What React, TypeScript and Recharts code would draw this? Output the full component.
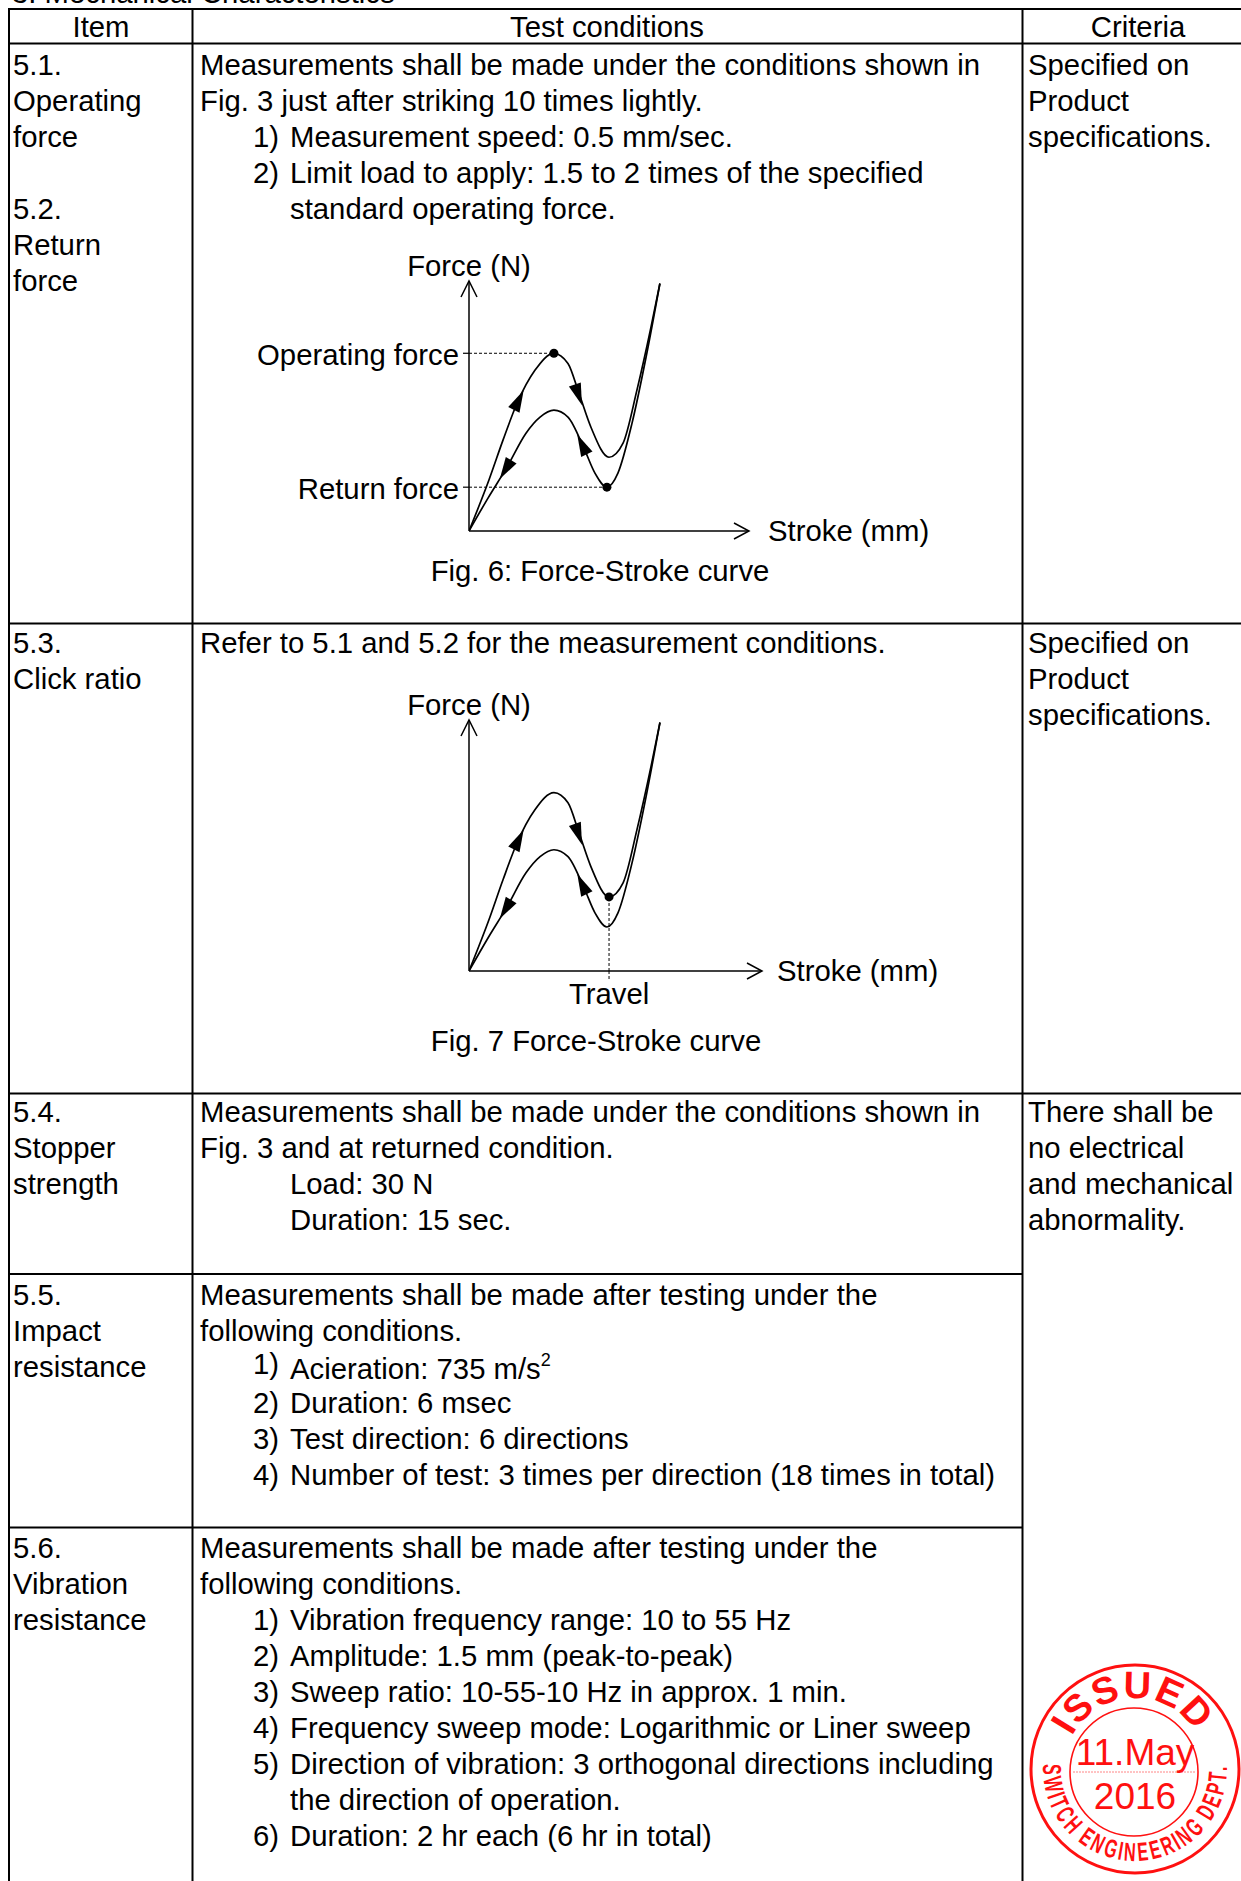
import React from 'react';
import { ComposedChart, Line, Scatter, XAxis, YAxis, ReferenceLine, ReferenceDot } from 'recharts';

const FONT = '"Liberation Sans", Arial, Helvetica, sans-serif';
const FS = 29.3;

// ---- Force-Stroke curve readings (relative stroke / force units) ----
const pressStroke = [0, 1.05, 1.79, 2.53, 3.47, 4.47, 5.21, 5.79, 6.42, 7.37, 8.11, 8.84, 9.58, 10.05];
const pressForce = [0, 2.06, 3.67, 5.16, 6.49, 7.18, 6.77, 5.56, 4.19, 2.98, 3.55, 5.69, 8.23, 10.0];
const releaseStroke = [0, 1.0, 2.0, 3.0, 3.74, 4.47, 5.21, 6.05, 6.63, 7.26, 7.84, 8.58, 9.32, 10.05];
const releaseForce = [0, 1.33, 2.58, 3.95, 4.6, 4.88, 4.6, 3.35, 2.34, 1.77, 2.34, 4.35, 7.02, 10.0];

// direction arrows on the curves: position and the point they head toward
const arrowStroke = [2.62, 5.76, 5.95, 1.92];
const arrowForce = [5.29, 5.5, 3.5, 2.48];
const arrowToStroke = [3.08, 6.07, 5.52, 1.42];
const arrowToForce = [6.0, 4.81, 4.18, 1.85];

// marked points
const operatingPoint = { s: 4.47, f: 7.18 };
const returnPoint = { s: 7.26, f: 1.77 };
const travelPoint = { s: 7.37, f: 2.98 };
const forceTickValues = [returnPoint.f, operatingPoint.f];
const forceTickNames = ['Return force', 'Operating force'];

const pressData = pressStroke.map((s, i) => ({ s, f: pressForce[i] }));
const releaseData = releaseStroke.map((s, i) => ({ s, f: releaseForce[i] }));
const arrowData = arrowStroke.map((s, i) => ({ s, f: arrowForce[i], ts: arrowToStroke[i], tf: arrowToForce[i] }));

// ---- table text ----
const itemLines: [string, number][] = [
  ['5.1.', 75], ['Operating', 111], ['force', 147], ['5.2.', 219], ['Return', 255], ['force', 291],
  ['5.3.', 653], ['Click ratio', 689],
  ['5.4.', 1122], ['Stopper', 1158], ['strength', 1194],
  ['5.5.', 1305], ['Impact', 1341], ['resistance', 1377],
  ['5.6.', 1558], ['Vibration', 1594], ['resistance', 1630],
];
const condLines: [string, number][] = [
  ['Measurements shall be made under the conditions shown in', 75],
  ['Fig. 3 just after striking 10 times lightly.', 111],
  ['Refer to 5.1 and 5.2 for the measurement conditions.', 653],
  ['Measurements shall be made under the conditions shown in', 1122],
  ['Fig. 3 and at returned condition.', 1158],
  ['Measurements shall be made after testing under the', 1305],
  ['following conditions.', 1341],
  ['Measurements shall be made after testing under the', 1558],
  ['following conditions.', 1594],
];
const listLines: [string, string, number][] = [
  ['1)', 'Measurement speed: 0.5 mm/sec.', 147],
  ['2)', 'Limit load to apply: 1.5 to 2 times of the specified', 183],
  ['', 'standard operating force.', 219],
  ['', 'Load: 30 N', 1194],
  ['', 'Duration: 15 sec.', 1230],
  ['2)', 'Duration: 6 msec', 1413],
  ['3)', 'Test direction: 6 directions', 1449],
  ['4)', 'Number of test: 3 times per direction (18 times in total)', 1485],
  ['1)', 'Vibration frequency range: 10 to 55 Hz', 1630],
  ['2)', 'Amplitude: 1.5 mm (peak-to-peak)', 1666],
  ['3)', 'Sweep ratio: 10-55-10 Hz in approx. 1 min.', 1702],
  ['4)', 'Frequency sweep mode: Logarithmic or Liner sweep', 1738],
  ['5)', 'Direction of vibration: 3 orthogonal directions including', 1774],
  ['', 'the direction of operation.', 1810],
  ['6)', 'Duration: 2 hr each (6 hr in total)', 1846],
];
const critLines: [string, number][] = [
  ['Specified on', 75], ['Product', 111], ['specifications.', 147],
  ['Specified on', 653], ['Product', 689], ['specifications.', 725],
  ['There shall be', 1122], ['no electrical', 1158], ['and mechanical', 1194], ['abnormality.', 1230],
];

// stamp texts
const stampTop = 'ISSUED';
const stampBottom = 'SWITCH ENGINEERING DEPT.';
const stampDate = '11.May';
const stampYear = '2016';
const boldWidths: Record<string, number> = {
  S: 667, W: 944, I: 278, T: 611, C: 722, H: 722, ' ': 278, E: 667, N: 722, G: 778, R: 722, D: 722, P: 667, '.': 278, U: 722,
};

const Y_AXIS_W = 229;

function makeArrowShape(kx: number, ky: number) {
  return (props: any) => {
    const { cx, cy, payload } = props;
    if (cx == null || cy == null) return <g />;
    const dx = (payload.ts - payload.s) * kx;
    const dy = -(payload.tf - payload.f) * ky;
    const len = Math.hypot(dx, dy) || 1;
    const ux = dx / len;
    const uy = dy / len;
    const L = 22;
    const W = 6.3;
    const tx = cx + (ux * L) / 2;
    const ty = cy + (uy * L) / 2;
    const bx = cx - (ux * L) / 2;
    const by = cy - (uy * L) / 2;
    const d = `M${tx},${ty} L${bx - uy * W},${by + ux * W} L${bx + uy * W},${by - ux * W} Z`;
    return <path d={d} fill="#000" stroke="none" />;
  };
}

const upChevron = (props: any) => {
  const { cx, cy } = props;
  return <path d={`M${cx - 8},${cy + 16} L${cx},${cy} L${cx + 8},${cy + 16}`} fill="none" stroke="#000" strokeWidth={1.5} />;
};
const rightChevron = (props: any) => {
  const { cx, cy } = props;
  return <path d={`M${cx - 15},${cy - 8} L${cx},${cy} L${cx - 15},${cy + 8}`} fill="none" stroke="#000" strokeWidth={1.5} />;
};

const ForceTick = (props: any) => {
  const { x, y, payload } = props;
  const idx = forceTickValues.indexOf(payload.value);
  const name = forceTickNames[idx] ?? '';
  return (
    <text x={x} y={y + 12} textAnchor="end" fontSize={FS} fill="#000" fontFamily={FONT}>
      {name}
    </text>
  );
};
const TravelTick = (props: any) => {
  const { x, y } = props;
  return (
    <text x={x} y={y + 25} textAnchor="middle" fontSize={FS} fill="#000" fontFamily={FONT}>
      Travel
    </text>
  );
};

type FigProps = {
  width: number;
  height: number;
  margin: { top: number; right: number; bottom: number; left: number };
  xAxisHeight: number;
  xMax: number;
  yMax: number;
  variant: 'op' | 'travel';
  strokeOffset: number;
};

function ForceStrokeChart({ width, height, margin, xAxisHeight, xMax, yMax, variant, strokeOffset }: FigProps) {
  const plotW = width - margin.left - margin.right - Y_AXIS_W;
  const plotH = height - margin.top - margin.bottom - xAxisHeight;
  const kx = plotW / xMax;
  const ky = plotH / yMax;
  const arrowShape = makeArrowShape(kx, ky);
  const isOp = variant === 'op';
  return (
    <ComposedChart width={width} height={height} margin={margin}>
      <XAxis
        type="number"
        dataKey="s"
        domain={[0, xMax]}
        allowDataOverflow
        height={xAxisHeight}
        axisLine={{ stroke: '#000', strokeWidth: 1.5 }}
        ticks={isOp ? [] : [travelPoint.s]}
        tick={isOp ? false : <TravelTick />}
        tickLine={isOp ? false : { stroke: '#000', strokeWidth: 1, strokeDasharray: '3 2' }}
        tickSize={8}
        tickMargin={0}
      />
      <YAxis
        type="number"
        dataKey="f"
        domain={[0, yMax]}
        allowDataOverflow
        width={Y_AXIS_W}
        axisLine={{ stroke: '#000', strokeWidth: 1.5 }}
        ticks={isOp ? forceTickValues : []}
        tick={isOp ? <ForceTick /> : false}
        tickLine={isOp ? { stroke: '#000', strokeWidth: 1.2 } : false}
        tickSize={6}
        tickMargin={4}
      />
      {isOp ? (
        <ReferenceLine
          segment={[{ x: 0, y: operatingPoint.f }, { x: operatingPoint.s, y: operatingPoint.f }]}
          stroke="#000"
          strokeWidth={1}
          strokeDasharray="3 2"
          ifOverflow="visible"
        />
      ) : null}
      {isOp ? (
        <ReferenceLine
          segment={[{ x: 0, y: returnPoint.f }, { x: returnPoint.s, y: returnPoint.f }]}
          stroke="#000"
          strokeWidth={1}
          strokeDasharray="3 2"
          ifOverflow="visible"
        />
      ) : null}
      {!isOp ? (
        <ReferenceLine
          segment={[{ x: travelPoint.s, y: 0 }, { x: travelPoint.s, y: travelPoint.f }]}
          stroke="#000"
          strokeWidth={1}
          strokeDasharray="3 2"
          ifOverflow="visible"
        />
      ) : null}
      <Line data={pressData} dataKey="f" type="monotone" stroke="#000" strokeWidth={1.7} dot={false} isAnimationActive={false} />
      <Line data={releaseData} dataKey="f" type="monotone" stroke="#000" strokeWidth={1.7} dot={false} isAnimationActive={false} />
      <Scatter data={arrowData} dataKey="f" shape={arrowShape} isAnimationActive={false} />
      {isOp ? <ReferenceDot x={operatingPoint.s} y={operatingPoint.f} r={4.5} fill="#000" stroke="none" ifOverflow="visible" /> : null}
      {isOp ? <ReferenceDot x={returnPoint.s} y={returnPoint.f} r={4.5} fill="#000" stroke="none" ifOverflow="visible" /> : null}
      {!isOp ? <ReferenceDot x={travelPoint.s} y={travelPoint.f} r={4.5} fill="#000" stroke="none" ifOverflow="visible" /> : null}
      <ReferenceDot
        x={0}
        y={yMax}
        r={0}
        shape={upChevron}
        ifOverflow="visible"
        label={{ value: 'Force (N)', position: 'top', offset: 5, fill: '#000', fontSize: FS, fontFamily: FONT }}
      />
      <ReferenceDot
        x={xMax}
        y={0}
        r={0}
        shape={rightChevron}
        ifOverflow="visible"
        label={{ value: 'Stroke (mm)', position: 'right', offset: strokeOffset, fill: '#000', fontSize: FS, fontFamily: FONT }}
      />
    </ComposedChart>
  );
}

// place letters along an arc; angles in math degrees (counter-clockwise, y up)
function arcLetters(text: string, fontSize: number, xScale: number, startDeg: number, endDeg: number) {
  const ws = text.split('').map((c) => ((boldWidths[c] ?? 600) / 1000) * fontSize * xScale);
  const total = ws.reduce((a, b) => a + b, 0);
  let cum = 0;
  return text.split('').map((c, i) => {
    const frac = (cum + ws[i] / 2) / total;
    cum += ws[i];
    return { c, deg: startDeg + (endDeg - startDeg) * frac };
  });
}

function Stamp() {
  const cx = 1135;
  const cy = 1769;
  const red = '#ff1010';
  const top = arcLetters(stampTop, 38, 1, 153, 31);
  const bottom = arcLetters(stampBottom, 26, 0.62, 176, 362);
  const rTop = 71;
  const rBot = 92;
  return (
    <g>
      <circle cx={cx} cy={cy} r={104} fill="none" stroke={red} strokeWidth={3} />
      <circle cx={cx - 1} cy={cy + 3} r={64} fill="none" stroke={red} strokeWidth={1.6} />
      {top.map((l, i) => {
        const a = (l.deg * Math.PI) / 180;
        const x = cx + rTop * Math.cos(a);
        const y = cy - rTop * Math.sin(a);
        return (
          <text
            key={'st' + i}
            transform={`translate(${x},${y}) rotate(${90 - l.deg})`}
            textAnchor="middle"
            fontFamily={FONT}
            fontWeight="bold"
            fontSize={38}
            fill={red}
          >
            {l.c}
          </text>
        );
      })}
      {bottom.map((l, i) => {
        if (l.c === ' ') return null;
        const a = (l.deg * Math.PI) / 180;
        const x = cx + rBot * Math.cos(a);
        const y = cy - rBot * Math.sin(a);
        return (
          <text
            key={'sb' + i}
            transform={`translate(${x},${y}) rotate(${270 - l.deg}) scale(0.62,1)`}
            textAnchor="middle"
            fontFamily={FONT}
            fontWeight="bold"
            fontSize={26}
            fill={red}
          >
            {l.c}
          </text>
        );
      })}
      <text x={cx} y={1765} textAnchor="middle" fontFamily={FONT} fontSize={37} fill={red}>{stampDate}</text>
      <line x1={1073} y1={1772} x2={1195} y2={1772} stroke={red} strokeWidth={1} strokeDasharray="2 1" opacity={0.5} />
      <text x={cx} y={1809} textAnchor="middle" fontFamily={FONT} fontSize={37} fill={red}>{stampYear}</text>
    </g>
  );
}

function TableLayer() {
  const W = 1241;
  const hFull = [8, 42.5, 622.5, 1092.5];
  const hPart = [1273, 1526.5];
  const vLines = [8, 191.5, 1021.5];
  return (
    <svg width={1241} height={1881} style={{ position: 'absolute', left: 0, top: 0 }} fontFamily={FONT} fontSize={FS}>
      {hFull.map((y, i) => (
        <rect key={'hf' + i} x={8} y={y} width={W - 8} height={2} fill="#000" />
      ))}
      {hPart.map((y, i) => (
        <rect key={'hp' + i} x={8} y={y} width={1015} height={2} fill="#000" />
      ))}
      {vLines.map((x, i) => (
        <rect key={'v' + i} x={x} y={8} width={2} height={1881} fill="#000" />
      ))}
      <text x={12} y={3} fill="#000">3. Mechanical Characteristics</text>
      <text x={101} y={37} textAnchor="middle" fill="#000">Item</text>
      <text x={607} y={37} textAnchor="middle" fill="#000">Test conditions</text>
      <text x={1138} y={37} textAnchor="middle" fill="#000">Criteria</text>
      {itemLines.map(([t, y], i) => (
        <text key={'i' + i} x={13} y={y} fill="#000">{t}</text>
      ))}
      {condLines.map(([t, y], i) => (
        <text key={'c' + i} x={200} y={y} fill="#000">{t}</text>
      ))}
      {listLines.map(([n, t, y], i) => (
        <g key={'l' + i}>
          {n ? <text x={253} y={y} fill="#000">{n}</text> : null}
          <text x={290} y={y} fill="#000">{t}</text>
        </g>
      ))}
      <text x={253} y={1374} fill="#000">1)</text>
      <text x={290} y={1379} fill="#000">
        Acieration: 735 m/s<tspan dy={-13} fontSize={18}>2</tspan>
      </text>
      {critLines.map(([t, y], i) => (
        <text key={'k' + i} x={1028} y={y} fill="#000">{t}</text>
      ))}
      <text x={600} y={581} textAnchor="middle" fill="#000">Fig. 6: Force-Stroke curve</text>
      <text x={596} y={1051} textAnchor="middle" fill="#000">Fig. 7 Force-Stroke curve</text>
      <Stamp />
    </svg>
  );
}

export default function App() {
  return (
    <div
      style={{
        position: 'absolute',
        left: 0,
        top: 0,
        width: 1241,
        height: 1881,
        background: '#fff',
        fontFamily: FONT,
        overflow: 'hidden',
      }}
    >
      <TableLayer />
      <div style={{ position: 'absolute', left: 240, top: 240 }}>
        <ForceStrokeChart
          width={720}
          height={320}
          margin={{ top: 41, right: 211, bottom: 28, left: 0 }}
          xAxisHeight={1}
          xMax={14.74}
          yMax={10.1}
          variant="op"
          strokeOffset={19}
        />
      </div>
      <div style={{ position: 'absolute', left: 240, top: 680 }}>
        <ForceStrokeChart
          width={720}
          height={340}
          margin={{ top: 40, right: 198, bottom: 9, left: 0 }}
          xAxisHeight={40}
          xMax={15.42}
          yMax={10.1}
          variant="travel"
          strokeOffset={15}
        />
      </div>
    </div>
  );
}
